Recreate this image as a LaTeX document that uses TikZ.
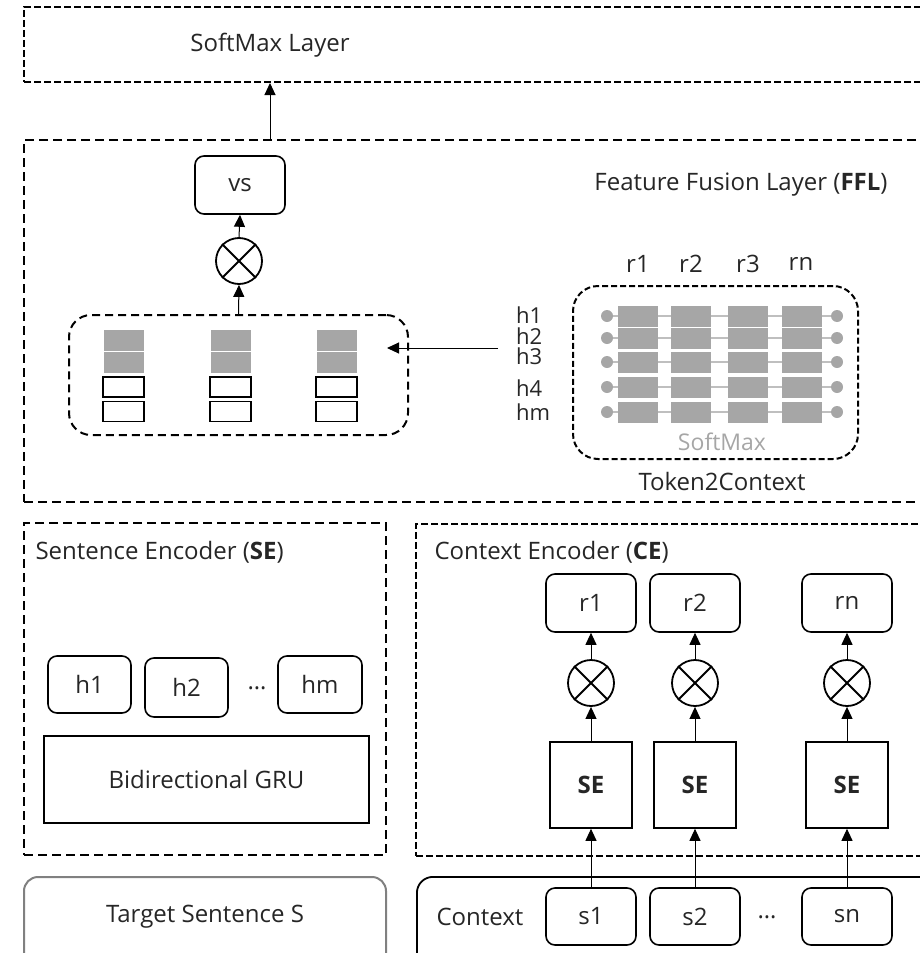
\documentclass[tikz,border=0pt]{standalone}
\usepackage{fontspec}
\setmainfont{Open Sans}
\usetikzlibrary{arrows.meta,positioning}

\begin{document}
\begin{tikzpicture}[x=1pt, y=-1pt,
    font=\fontsize{24}{28}\selectfont, text=black!85,
    layerbox/.style={draw, line width=2pt, dash pattern=on 7pt off 3pt, inner sep=0pt},
    widedash/.style={draw, line width=2pt, dash pattern=on 9pt off 5pt, inner sep=0pt},
    roundbox/.style={draw, line width=1.6pt, rounded corners=9pt, inner sep=0pt, minimum width=90pt, minimum height=58pt},
    plainbox/.style={draw, line width=1.6pt, inner sep=0pt},
    mul/.style={draw, circle, line width=1.8pt, minimum size=46pt, inner sep=0pt},
    arr/.style={-{Triangle[length=12pt,width=11pt]}, line width=1pt},
    cell/.style={fill=black!35, draw=white, line width=0.8pt, minimum width=41pt, minimum height=22pt, inner sep=0pt},
    rowdot/.style={circle, fill=black!35, minimum size=12pt, inner sep=0pt},
]
    % Fix the page to the reference size
    \useasboundingbox (0,0) rectangle (920,953);
    \clip (0,0) rectangle (920,953);

    % SoftMax layer on top
    \node[layerbox, minimum width=916pt, minimum height=75pt] (smx) at (482,44.5) {};
    \node (smxlabel) at (270,45) {SoftMax Layer};

    % Feature fusion layer
    \node[widedash, minimum width=916pt, minimum height=362pt] (ffl) at (482,321) {};
    \node (ffllabel) at (741,185) {Feature Fusion Layer (\textbf{FFL})};
    \draw[arr] (ffl.north -| smxlabel) -- (smx.south -| smxlabel);

    % Fused vector vs
    \node[roundbox] (vs) at (240,185) {vs};
    \node[mul] (mv) at (239,261) {};
    \draw[line width=1.8pt] (mv.north east) -- (mv.south west) (mv.north west) -- (mv.south east);
    \node[draw, line width=2pt, dash pattern=on 8pt off 5pt, rounded corners=22pt,
          minimum width=339pt, minimum height=120pt] (fuse) at (238.5,375) {};
    \draw[arr] (fuse.north) -- (mv.south);
    \draw[arr] (mv.north) -- (vs.south);

    % Stacked token vectors inside the fusion box
    \foreach \x [count=\k] in {123.5,230.5,336.5} {
        \node[cell] (g\k a) at (\x,340) {};
        \node[cell] (g\k b) at (\x,362) {};
        \node[plainbox, minimum width=41pt, minimum height=20pt] (w\k a) at (\x,387) {};
        \node[plainbox, minimum width=41pt, minimum height=20pt] (w\k b) at (\x,411.5) {};
    }

    % Token2Context attention grid
    \node[draw, line width=2pt, dash pattern=on 6pt off 3pt, rounded corners=25pt,
          minimum width=285pt, minimum height=173pt] (t2c) at (715.5,372.5) {};
    \foreach \x/\r in {638/r1,691/r2,748/r3,801/rn}
        \node (col\r) at (\x,264) {\r};
    \foreach \y/\h in {315/h1,336/h2,356/h3,388/h4,412/hm}
        \node[anchor=west, inner sep=0pt, font=\fontsize{22}{24}\selectfont] (lab\h) at (516,\y) {\h};
    \foreach \y [count=\i] in {316,338,362,387,412} {
        \node[rowdot] (dl\i) at (607,\y) {};
        \node[rowdot] (dr\i) at (837,\y) {};
        \draw[black!25, line width=1.5pt] (dl\i) -- (dr\i);
        \foreach \x [count=\j] in {638,691,748,801.5}
            \node[cell, draw=none, minimum width=40pt, minimum height=21pt] (c\i\j) at (\x,\y) {};
    }
    \node[text=black!35, font=\fontsize{23}{26}\selectfont] (t2csm) at (722,442) {SoftMax};
    \node (t2clabel) at (722,481) {Token2Context};

    % Arrow from Token2Context into the fusion box
    \coordinate (t2cin) at (498,348);
    \coordinate (fusein) at (387,348);
    \draw[arr] (t2cin) -- (fusein);

    % Sentence encoder
    \node[widedash, minimum width=362pt, minimum height=332pt] (se) at (205,689) {};
    \node[anchor=west] (setitle) at (32,552) {Sentence Encoder (\textbf{SE})};
    \node[roundbox, minimum width=83pt, minimum height=57pt] (h1) at (89.5,684.5) {h1};
    \node[roundbox, minimum width=83pt, minimum height=59pt] (h2) at (186.5,687.5) {h2};
    \node (hdots) at (257,688) {\ldots};
    \node[roundbox, minimum width=84pt, minimum height=57pt] (hm) at (320,684.5) {hm};
    \node[plainbox, minimum width=325pt, minimum height=87pt] (gru) at (206.5,779.5) {Bidirectional GRU};

    % Target sentence
    \node[draw=black!50, line width=2pt, rounded corners=14pt, minimum width=362pt,
          minimum height=110pt, anchor=north] (target) at (205,876) {};
    \node (targetlabel) at (205,917) {Target Sentence S};

    % Context encoder
    \node[layerbox, minimum width=525pt, minimum height=332pt, anchor=north west] (ce) at (415,523) {};
    \node[anchor=west] (cetitle) at (431,552) {Context Encoder (\textbf{CE})};
    \node[draw, line width=1.8pt, rounded corners=16pt, minimum width=530pt,
          minimum height=110pt, anchor=north west] (ctx) at (416,876) {};
    \node (ctxlabel) at (480,917) {Context};

    \foreach \x/\n in {591/1,695/2,847/n} {
        \node[roundbox] (r\n) at (\x,603) {r\n};
        \node[mul] (m\n) at (\x,683) {};
        \draw[line width=1.8pt] (m\n.north east) -- (m\n.south west) (m\n.north west) -- (m\n.south east);
        \node[plainbox, minimum width=82pt, minimum height=86pt, font=\fontsize{24}{28}\selectfont\bfseries] (se\n) at (\x,785) {SE};
        \node[roundbox, minimum height=57pt] (s\n) at (\x,916.5) {s\n};
        \draw[arr] (s\n) -- (se\n);
        \draw[arr] (se\n) -- (m\n);
        \draw[arr] (m\n) -- (r\n);
    }
    \node (sdots) at (767,917) {\ldots};
\end{tikzpicture}
\end{document}
